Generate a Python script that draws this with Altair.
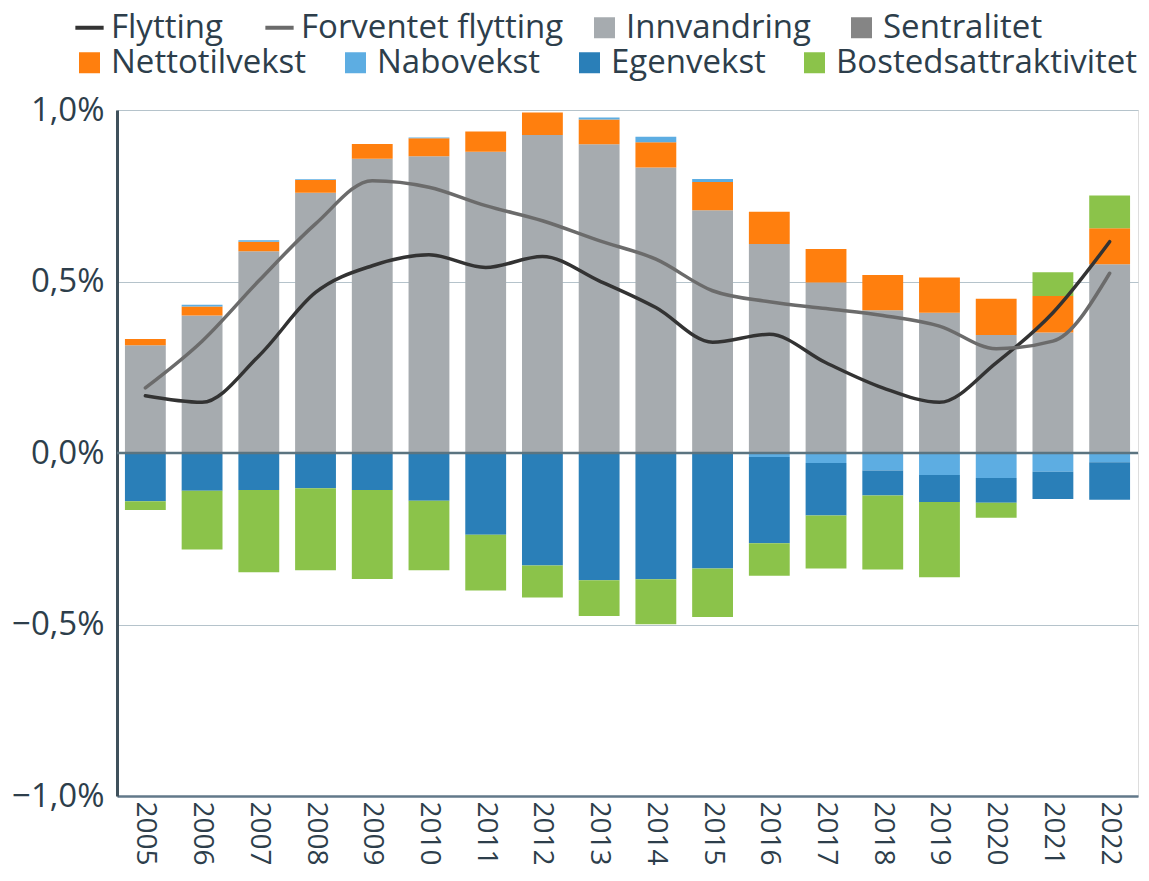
import altair as alt
import pandas as pd

years = [str(y) for y in range(2005, 2023)]

innvandring = [0.314, 0.401, 0.588, 0.759, 0.858, 0.865, 0.878, 0.927, 0.900, 0.832,
               0.708, 0.609, 0.497, 0.416, 0.409, 0.344, 0.351, 0.550]
nettotilvekst = [0.018, 0.026, 0.028, 0.037, 0.043, 0.053, 0.059, 0.066, 0.072, 0.074,
                 0.082, 0.094, 0.098, 0.103, 0.103, 0.106, 0.107, 0.105]
nabovekst = [0.0, 0.005, 0.004, 0.002, 0.0, 0.002, 0.0, 0.0, 0.006, 0.016,
             0.009, -0.012, -0.029, -0.051, -0.064, -0.073, -0.055, -0.027]
egenvekst = [-0.141, -0.110, -0.108, -0.103, -0.108, -0.139, -0.238, -0.328, -0.371, -0.368,
             -0.337, -0.251, -0.153, -0.073, -0.079, -0.072, -0.079, -0.109]
bostedsattraktivitet = [-0.025, -0.171, -0.240, -0.239, -0.259, -0.203, -0.163, -0.093, -0.104, -0.131,
                        -0.141, -0.095, -0.155, -0.216, -0.219, -0.044, 0.069, 0.096]

flytting = [0.167, 0.148, 0.283, 0.468, 0.546, 0.578, 0.541, 0.573, 0.502, 0.424,
            0.323, 0.346, 0.263, 0.190, 0.148, 0.263, 0.409, 0.616]
forventet = [0.190, 0.326, 0.502, 0.668, 0.794, 0.775, 0.721, 0.677, 0.619, 0.565,
             0.473, 0.441, 0.421, 0.401, 0.370, 0.304, 0.326, 0.524]

line_names = ["Flytting", "Forventet flytting"]
line_colors = ["#333333", "#6b6b6b"]
fill_names = ["Innvandring", "Sentralitet"]
fill_colors = ["#a6abaf", "#858585"]
color_names = ["Nettotilvekst", "Nabovekst", "Egenvekst", "Bostedsattraktivitet"]
color_colors = ["#ff7f0e", "#5dade2", "#2a7fb8", "#8bc34a"]

components = [
    ("Innvandring", innvandring, 0),
    ("Nettotilvekst", nettotilvekst, 1),
    ("Nabovekst", nabovekst, 2),
    ("Egenvekst", egenvekst, 3),
    ("Bostedsattraktivitet", bostedsattraktivitet, 4),
]

bar_rows = []
for i, yr in enumerate(years):
    for name, arr, o in components:
        if arr[i] != 0:
            bar_rows.append({"year": yr, "serie": name, "value": arr[i], "ord": o})
bar_df = pd.DataFrame(bar_rows)

line_rows = []
for i, yr in enumerate(years):
    line_rows.append({"year": yr, "serie": "Flytting", "value": flytting[i]})
    line_rows.append({"year": yr, "serie": "Forventet flytting", "value": forventet[i]})
line_df = pd.DataFrame(line_rows)

text_color = "#2d3e4b"

x_enc = alt.X(
    "year:N", sort=years, title=None,
    scale=alt.Scale(paddingInner=0.28, paddingOuter=0.14),
    axis=alt.Axis(labelAngle=90, labelFontSize=28, labelColor=text_color, labelPadding=5,
                  ticks=False, domainColor="#62798a", domainWidth=2.5, grid=False,
                  labelFont="Open Sans"),
)
y_scale = alt.Scale(domain=[-1, 1], nice=False)
y_axis = alt.Axis(values=[-1, -0.5, 0, 0.5, 1],
                  labelExpr="replace(format(datum.value, '.1f'), '.', ',') + '%'",
                  labelFontSize=33, labelColor=text_color, labelPadding=13, ticks=False,
                  domainColor="#3f515c", domainWidth=3, gridColor="#b5c3cb", gridWidth=1,
                  labelFont="Open Sans")


def make_legend(lx, ly, stype, size, colpad):
    return alt.Legend(
        title=None, orient="none", legendX=lx, legendY=ly, direction="horizontal",
        columnPadding=colpad, padding=0, labelLimit=600,
        labelFont="Open Sans", labelFontSize=33, labelColor=text_color, labelOffset=5,
        symbolSize=size, symbolType=stype, symbolStrokeWidth=4 if stype == "stroke" else 0,
        symbolOpacity=1,
    )


base = alt.Chart(bar_df).transform_stack(
    stack="value", groupby=["year"], as_=["y0", "y1"],
    sort=[alt.SortField("ord", order="ascending")], offset="zero",
)

bars_fill = base.transform_filter(alt.datum.serie == "Innvandring").mark_bar().encode(
    x=x_enc,
    y=alt.Y("y0:Q", scale=y_scale, axis=y_axis, title=None),
    y2="y1:Q",
    fill=alt.Fill("serie:N", scale=alt.Scale(domain=fill_names, range=fill_colors),
                  legend=make_legend(471, -99, "square", 441, 34)),
)

bars_color = base.transform_filter(alt.datum.serie != "Innvandring").mark_bar().encode(
    x=x_enc,
    y=alt.Y("y0:Q", scale=y_scale, axis=y_axis, title=None),
    y2="y1:Q",
    color=alt.Color("serie:N", scale=alt.Scale(domain=color_names, range=color_colors),
                    legend=make_legend(-44, -64, "square", 441, 32)),
)

lines = alt.Chart(line_df).mark_line(interpolate="monotone", strokeWidth=3.5, strokeCap="round").encode(
    x=x_enc,
    y=alt.Y("value:Q", scale=y_scale, axis=y_axis, title=None),
    stroke=alt.Stroke("serie:N", scale=alt.Scale(domain=line_names, range=line_colors),
                      legend=make_legend(-44, -99, "stroke", 800, 34)),
)

zero = alt.Chart(pd.DataFrame({"v": [0]})).mark_rule(color="#5b7480", strokeWidth=2.5).encode(
    y=alt.Y("v:Q", scale=y_scale, axis=y_axis, title=None)
)

chart = alt.layer(bars_fill, bars_color, zero, lines).properties(
    width=1021, height=686,
    autosize=alt.AutoSizeParams(type="none"),
    padding={"left": 109, "top": 102, "right": 3, "bottom": 72},
).configure_view(strokeWidth=0).configure(font="Open Sans")

chart.save("out.html", embed_options={"renderer": "svg", "actions": False})
